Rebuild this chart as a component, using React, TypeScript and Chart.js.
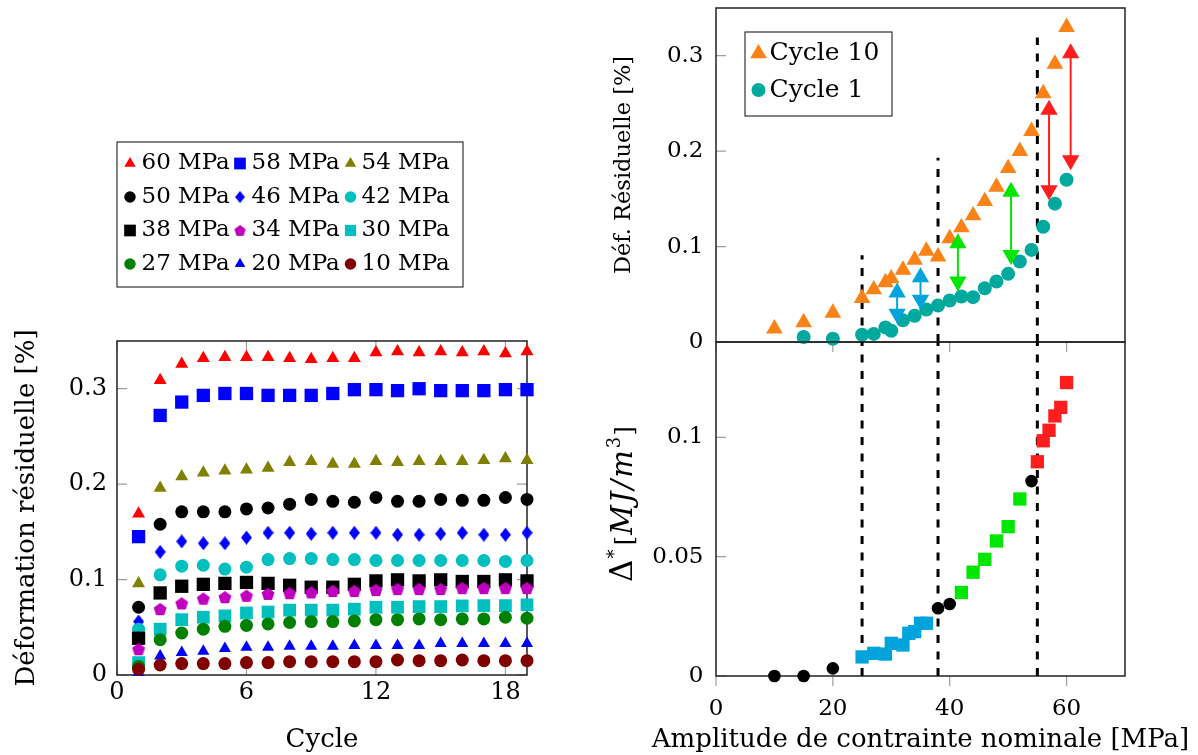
import React, { useEffect, useRef } from 'react';
import { Chart, registerables } from 'chart.js';

Chart.register(...registerables);

const FONT = "'DejaVu Serif', 'Liberation Serif', serif";

// ---------------- Left panel: residual strain vs cycle ----------------
const cycles = [1, 2, 3, 4, 5, 6, 7, 8, 9, 10, 11, 12, 13, 14, 15, 16, 17, 18, 19];
const cycleTicks = [0, 6, 12, 18];
const cycleTickLabels = ['0', '6', '12', '18'];
const strainTicks = [0, 0.1, 0.2, 0.3];
const strainTickLabels = ['0', '0.1', '0.2', '0.3'];
const seriesLabels = ['60 MPa', '58 MPa', '54 MPa', '50 MPa', '46 MPa', '42 MPa', '38 MPa', '34 MPa', '30 MPa', '27 MPa', '20 MPa', '10 MPa'];

const s60 = [0.169, 0.309, 0.326, 0.332, 0.333, 0.333, 0.333, 0.332, 0.331, 0.332, 0.332, 0.338, 0.339, 0.338, 0.339, 0.338, 0.339, 0.337, 0.339];
const s58 = [0.145, 0.272, 0.286, 0.293, 0.295, 0.295, 0.293, 0.293, 0.293, 0.295, 0.299, 0.299, 0.298, 0.300, 0.298, 0.298, 0.298, 0.299, 0.299];
const s54 = [0.096, 0.196, 0.208, 0.212, 0.214, 0.215, 0.217, 0.223, 0.224, 0.221, 0.221, 0.224, 0.223, 0.224, 0.224, 0.224, 0.225, 0.227, 0.225];
const s50 = [0.071, 0.158, 0.171, 0.171, 0.171, 0.174, 0.175, 0.179, 0.184, 0.182, 0.181, 0.186, 0.182, 0.182, 0.184, 0.183, 0.183, 0.186, 0.184];
const s46 = [0.056, 0.129, 0.140, 0.138, 0.138, 0.144, 0.149, 0.149, 0.148, 0.149, 0.149, 0.149, 0.147, 0.147, 0.148, 0.149, 0.147, 0.147, 0.149];
const s42 = [0.048, 0.105, 0.114, 0.115, 0.111, 0.113, 0.121, 0.122, 0.122, 0.121, 0.121, 0.120, 0.120, 0.120, 0.120, 0.120, 0.120, 0.119, 0.120];
const s38 = [0.0385, 0.086, 0.093, 0.095, 0.096, 0.097, 0.096, 0.094, 0.092, 0.092, 0.095, 0.0986, 0.0997, 0.0986, 0.0997, 0.098, 0.098, 0.0997, 0.0986];
const s34 = [0.027, 0.069, 0.075, 0.080, 0.0815, 0.083, 0.085, 0.0857, 0.0865, 0.088, 0.088, 0.089, 0.090, 0.090, 0.090, 0.091, 0.091, 0.091, 0.091];
const s30 = [0.013, 0.048, 0.058, 0.0605, 0.062, 0.065, 0.066, 0.068, 0.068, 0.068, 0.069, 0.071, 0.071, 0.0717, 0.0717, 0.0724, 0.0727, 0.0727, 0.0735];
const s27 = [0.009, 0.037, 0.044, 0.048, 0.051, 0.052, 0.0535, 0.055, 0.056, 0.056, 0.0567, 0.058, 0.058, 0.0588, 0.058, 0.0588, 0.0588, 0.0605, 0.0595];
const s20 = [0.0025, 0.020, 0.0235, 0.025, 0.0277, 0.029, 0.029, 0.030, 0.030, 0.030, 0.031, 0.031, 0.031, 0.031, 0.033, 0.033, 0.033, 0.033, 0.033];
const s10 = [0.006, 0.0105, 0.012, 0.012, 0.012, 0.013, 0.013, 0.014, 0.014, 0.014, 0.014, 0.014, 0.0157, 0.015, 0.015, 0.0157, 0.015, 0.015, 0.015];
const leftSeries = [s60, s58, s54, s50, s46, s42, s38, s34, s30, s27, s20, s10];

// ---------------- Right panels: vs stress amplitude ----------------
const ampTicks = [0, 20, 40, 60];
const ampTickLabels = ['0', '20', '40', '60'];
const defTicks = [0, 0.1, 0.2, 0.3];
const defTickLabels = ['0', '0.1', '0.2', '0.3'];
const deltaTicks = [0, 0.05, 0.1];
const deltaTickLabels = ['0', '0.05', '0.1'];

const cycle10Amp = [10, 15, 20, 25, 27, 29, 30, 32, 34, 36, 38, 40, 42, 44, 46, 48, 50, 52, 54, 56, 58, 60];
const cycle10Def = [0.014, 0.0205, 0.0305, 0.046, 0.055, 0.0625, 0.0665, 0.0755, 0.086, 0.0955, 0.0895, 0.1085, 0.120, 0.1325, 0.1475, 0.1625, 0.182, 0.200, 0.221, 0.2605, 0.2915, 0.330];
const cycle1Amp = [15, 20, 25, 27, 29, 30, 32, 34, 36, 38, 40, 42, 44, 46, 48, 50, 52, 54, 56, 58, 60];
const cycle1Def = [0.0052, 0.0034, 0.0076, 0.0085, 0.0153, 0.0118, 0.0228, 0.0275, 0.034, 0.0383, 0.0435, 0.0477, 0.047, 0.0564, 0.0634, 0.0714, 0.0843, 0.0965, 0.1208, 0.145, 0.170];

const arrowAmp = [31, 35, 41.4, 50.5, 57, 60.7];
const arrowLow = [0.0296, 0.0442, 0.0633, 0.0912, 0.1591, 0.1905];
const arrowHigh = [0.0518, 0.0679, 0.1034, 0.1574, 0.2435, 0.3026];
const arrowGroup = ['blue', 'blue', 'green', 'green', 'red', 'red'];

const dashAmp = [25, 38, 55];
const dashTopDef = [0.091, 0.193, 0.319];

const blackAmp = [10, 15, 20, 38, 40, 54];
const blackDelta = [0, 0, 0.0032, 0.0284, 0.0302, 0.0817];
const blueAmp = [25, 27, 29, 30, 32, 33, 34, 35, 36];
const blueDelta = [0.0080, 0.0095, 0.0092, 0.0137, 0.0130, 0.0179, 0.0186, 0.0221, 0.0221];
const greenAmp = [42, 44, 46, 48, 50, 52];
const greenDelta = [0.035, 0.0435, 0.0489, 0.0566, 0.0626, 0.0742];
const redAmp = [55, 56, 57, 58, 59, 60];
const redDelta = [0.0898, 0.0986, 0.103, 0.109, 0.1126, 0.123];

// ---------------- styles ----------------
type Shape = 'circle' | 'triangle' | 'rect' | 'diamond' | 'pentagon';
interface MarkerStyle { color: string; shape: Shape; r: number }

const leftStyles: MarkerStyle[] = [
  { color: '#ff0000', shape: 'triangle', r: 7.5 },
  { color: '#0000ff', shape: 'rect', r: 9.4 },
  { color: '#808000', shape: 'triangle', r: 7.5 },
  { color: '#000000', shape: 'circle', r: 6.5 },
  { color: '#0000ff', shape: 'diamond', r: 7 },
  { color: '#00bfbf', shape: 'circle', r: 6.5 },
  { color: '#000000', shape: 'rect', r: 9.4 },
  { color: '#bf00bf', shape: 'pentagon', r: 6.8 },
  { color: '#00bfbf', shape: 'rect', r: 9 },
  { color: '#008000', shape: 'circle', r: 6.5 },
  { color: '#0000ff', shape: 'triangle', r: 7 },
  { color: '#800000', shape: 'circle', r: 6.5 },
];
const ORANGE = '#fb8216';
const TEAL = '#00a99d';
const groupColors: Record<string, string> = { blue: '#00a3dc', green: '#00e600', red: '#ff1e1e' };

function makeDiamond(color: string, w: number, h: number) {
  const c = document.createElement('canvas');
  c.width = w; c.height = h;
  const g = c.getContext('2d')!;
  g.fillStyle = color;
  g.beginPath();
  g.moveTo(w / 2, 0); g.lineTo(w, h / 2); g.lineTo(w / 2, h); g.lineTo(0, h / 2);
  g.closePath(); g.fill();
  return c;
}
function makePentagon(color: string, r: number) {
  const s = Math.ceil(2 * r) + 2;
  const c = document.createElement('canvas');
  c.width = s; c.height = s;
  const g = c.getContext('2d')!;
  g.fillStyle = color;
  g.beginPath();
  for (let i = 0; i < 5; i++) {
    const a = -Math.PI / 2 + (i * 2 * Math.PI) / 5;
    g.lineTo(s / 2 + r * Math.cos(a), s / 2 + 0.6 + r * Math.sin(a));
  }
  g.closePath(); g.fill();
  return c;
}
function pointStyleFor(m: MarkerStyle): any {
  if (m.shape === 'diamond') return makeDiamond(m.color, Math.round(m.r * 1.5), Math.round(m.r * 2));
  if (m.shape === 'pentagon') return makePentagon(m.color, m.r);
  return m.shape;
}

function drawMarker(ctx: CanvasRenderingContext2D, ps: any, m: MarkerStyle, x: number, y: number, k: number) {
  ctx.save();
  ctx.fillStyle = m.color;
  const r = m.r * k;
  if (typeof ps !== 'string') {
    const w = ps.width * k, h = ps.height * k;
    ctx.drawImage(ps, x - w / 2, y - h / 2, w, h);
  } else if (ps === 'circle') {
    ctx.beginPath(); ctx.arc(x, y, r, 0, Math.PI * 2); ctx.fill();
  } else if (ps === 'triangle') {
    ctx.beginPath();
    for (let i = 0; i < 3; i++) {
      const a = (i * 2 * Math.PI) / 3;
      ctx.lineTo(x + Math.sin(a) * r, y - Math.cos(a) * r);
    }
    ctx.closePath(); ctx.fill();
  } else if (ps === 'rect') {
    const s = r * Math.SQRT1_2;
    ctx.fillRect(x - s, y - s, 2 * s, 2 * s);
  }
  ctx.restore();
}

interface TextPart { t: string; size?: number; italic?: boolean; raise?: number; dx?: number; ls?: number }
interface TitleDef { parts: TextPart[]; x: number; y: number; rotate: boolean; size: number }
interface LegendDef {
  x0: number; y0: number; x1: number; y1: number; cols: number;
  markerX: number[]; textX: number[]; rowY: number[]; size: number; k: number;
  items: { label: string; ps: any; m: MarkerStyle }[];
}
interface PgfCfg {
  xTicks: number[]; yTicks: number[];
  xIn: boolean; xTopIn: boolean; xOut: boolean; yRightIn: boolean;
  titles: TitleDef[]; legend?: LegendDef;
}

function drawTitle(ctx: CanvasRenderingContext2D, d: TitleDef) {
  ctx.save();
  ctx.translate(d.x, d.y);
  if (d.rotate) ctx.rotate(-Math.PI / 2);
  ctx.fillStyle = '#000';
  ctx.textBaseline = 'alphabetic';
  ctx.textAlign = 'left';
  const c: any = ctx;
  const setFont = (p: TextPart) => {
    ctx.font = `${p.italic ? 'italic ' : ''}${p.size || d.size}px ${FONT}`;
    if ('letterSpacing' in c) c.letterSpacing = `${p.ls || 0}px`;
  };
  let total = 0;
  const widths = d.parts.map((p) => {
    setFont(p);
    const w = ctx.measureText(p.t).width + (p.dx || 0);
    total += w;
    return w;
  });
  let x = -total / 2;
  const base = d.size * 0.36;
  d.parts.forEach((p, i) => {
    setFont(p);
    ctx.fillText(p.t, x, base - (p.raise || 0));
    x += widths[i];
  });
  if ('letterSpacing' in c) c.letterSpacing = '0px';
  ctx.restore();
}

function drawLegend(ctx: CanvasRenderingContext2D, L: LegendDef) {
  ctx.save();
  ctx.fillStyle = '#fff';
  ctx.fillRect(L.x0, L.y0, L.x1 - L.x0, L.y1 - L.y0);
  ctx.strokeStyle = '#333';
  ctx.lineWidth = 1.2;
  ctx.strokeRect(L.x0, L.y0, L.x1 - L.x0, L.y1 - L.y0);
  L.items.forEach((it, i) => {
    const col = i % L.cols, row = Math.floor(i / L.cols);
    const y = L.rowY[row];
    drawMarker(ctx, it.ps, it.m, L.markerX[col], y, L.k);
    ctx.fillStyle = '#000';
    ctx.font = `${L.size}px ${FONT}`;
    ctx.textBaseline = 'middle';
    ctx.textAlign = 'left';
    ctx.fillText(it.label, L.textX[col], y);
  });
  ctx.restore();
}

function pgfPlugin(cfg: PgfCfg) {
  return {
    id: 'pgf',
    beforeDatasetsDraw(chart: any) {
      const { ctx, chartArea: a, scales } = chart;
      const xs = scales.x, ys = scales.y;
      ctx.save();
      ctx.strokeStyle = 'rgba(0,0,0,0.38)';
      ctx.lineWidth = 1.2;
      ctx.beginPath();
      for (const v of cfg.xTicks) {
        const px = xs.getPixelForValue(v);
        if (cfg.xIn) { ctx.moveTo(px, a.bottom); ctx.lineTo(px, a.bottom - 10); }
        if (cfg.xTopIn) { ctx.moveTo(px, a.top); ctx.lineTo(px, a.top + 10); }
        if (cfg.xOut) { ctx.moveTo(px, a.bottom); ctx.lineTo(px, a.bottom + 10); }
      }
      for (const v of cfg.yTicks) {
        const py = ys.getPixelForValue(v);
        ctx.moveTo(a.left, py); ctx.lineTo(a.left + 10, py);
        if (cfg.yRightIn) { ctx.moveTo(a.right, py); ctx.lineTo(a.right - 10, py); }
      }
      ctx.stroke();
      ctx.strokeStyle = '#222';
      ctx.lineWidth = 1.5;
      ctx.strokeRect(a.left, a.top, a.right - a.left, a.bottom - a.top);
      ctx.restore();
    },
    afterDraw(chart: any) {
      const ctx = chart.ctx;
      cfg.titles.forEach((t) => drawTitle(ctx, t));
      if (cfg.legend) drawLegend(ctx, cfg.legend);
    },
  };
}

function linScale(min: number, max: number, ticks: number[], labels: string[], horizontal: boolean, fit: number, padding: number, fontSize: number, showLabels = true) {
  return {
    type: 'linear',
    min,
    max,
    grid: { display: false, drawTicks: false },
    border: { display: false },
    afterBuildTicks: (s: any) => { s.ticks = ticks.map((v) => ({ value: v })); },
    afterFit: (s: any) => {
      if (horizontal) s.height = fit; else s.width = fit;
      s.paddingTop = 0; s.paddingBottom = 0; s.paddingLeft = 0; s.paddingRight = 0;
    },
    ticks: {
      display: showLabels,
      padding,
      autoSkip: false,
      maxRotation: 0,
      minRotation: 0,
      color: '#000',
      font: { family: FONT, size: fontSize },
      callback: (_v: any, i: number) => labels[i],
    },
  };
}

function pts(xs: number[], ys: number[]) {
  return xs.map((x, i) => ({ x, y: ys[i] }));
}

function scatterSet(xs: number[], ys: number[], m: MarkerStyle, ps: any, order: number) {
  return {
    data: pts(xs, ys),
    pointStyle: ps,
    pointRadius: m.r,
    pointHoverRadius: m.r,
    backgroundColor: m.color,
    borderColor: m.color,
    pointBorderWidth: 0,
    showLine: false,
    clip: false,
    order,
  };
}

function baseOptions(padding: any, scales: any) {
  return {
    responsive: false,
    animation: false,
    events: [],
    devicePixelRatio: 1,
    layout: { autoPadding: false, padding },
    plugins: { legend: { display: false }, tooltip: { enabled: false }, title: { display: false } },
    scales,
  };
}

function makeLeft(canvas: HTMLCanvasElement) {
  const styles = leftStyles.map((m) => pointStyleFor(m));
  const n = leftSeries.length;
  const datasets = leftSeries.map((vals, i) => scatterSet(cycles, vals, leftStyles[i], styles[i], n - i));
  const legend: LegendDef = {
    x0: 117, y0: 22, x1: 463, y1: 167, cols: 3,
    markerX: [130, 240, 350.5], textX: [141.5, 251.5, 361.5], rowY: [43.5, 77, 110.5, 144],
    size: 23, k: 0.88,
    items: seriesLabels.map((label, i) => ({ label, ps: styles[i], m: leftStyles[i] })),
  };
  const cfg: PgfCfg = {
    xTicks: cycleTicks, yTicks: strainTicks, xIn: true, xTopIn: true, xOut: false, yRightIn: true,
    titles: [
      { parts: [{ t: 'Cycle' }], x: 322, y: 618, rotate: false, size: 26 },
      { parts: [{ t: 'Déformation résiduelle [%]' }], x: 25, y: 388, rotate: true, size: 26 },
    ],
    legend,
  };
  return new Chart(canvas, {
    type: 'scatter',
    data: { datasets } as any,
    options: baseOptions({ left: 0, top: 221, right: 33, bottom: 0 }, {
      x: linScale(0, 19, cycleTicks, cycleTickLabels, true, 80, 3, 24),
      y: linScale(0, 0.35, strainTicks, strainTickLabels, false, 117, 10, 24),
    }) as any,
    plugins: [pgfPlugin(cfg) as any],
  });
}

function arrowSets(order: number) {
  return arrowAmp.map((a, i) => {
    const c = groupColors[arrowGroup[i]];
    return {
      data: [{ x: a, y: arrowLow[i] }, { x: a, y: arrowHigh[i] }],
      showLine: true,
      borderColor: c,
      backgroundColor: c,
      borderWidth: 2,
      pointStyle: 'triangle',
      pointRadius: 10,
      pointHoverRadius: 10,
      pointRotation: [180, 0],
      pointBorderWidth: 0,
      clip: false,
      order,
    };
  });
}

function dashSets(tops: number[], order: number) {
  return dashAmp.map((a, i) => ({
    data: [{ x: a, y: 0 }, { x: a, y: tops[i] }],
    showLine: true,
    borderColor: '#000',
    borderWidth: 3,
    borderDash: [8, 8.5],
    pointRadius: 0,
    pointHoverRadius: 0,
    order,
  }));
}

function makeTop(canvas: HTMLCanvasElement) {
  const triM: MarkerStyle = { color: ORANGE, shape: 'triangle', r: 9.6 };
  const cirM: MarkerStyle = { color: TEAL, shape: 'circle', r: 7 };
  const datasets = [
    ...arrowSets(1),
    scatterSet(cycle1Amp, cycle1Def, cirM, 'circle', 2),
    scatterSet(cycle10Amp, cycle10Def, triM, 'triangle', 3),
    ...dashSets(dashTopDef, 4),
  ];
  const cfg: PgfCfg = {
    xTicks: ampTicks, yTicks: defTicks, xIn: false, xTopIn: false, xOut: true, yRightIn: false,
    titles: [{ parts: [{ t: 'Déf. Résiduelle [%]' }], x: 61.5, y: 165, rotate: true, size: 22.5 }],
    legend: {
      x0: 185, y0: 32, x1: 332, y1: 116, cols: 1,
      markerX: [198.5], textX: [209.5], rowY: [53.5, 90], size: 25, k: 1,
      items: [
        { label: 'Cycle 10', ps: 'triangle', m: triM },
        { label: 'Cycle 1', ps: 'circle', m: cirM },
      ],
    },
  };
  return new Chart(canvas, {
    type: 'scatter',
    data: { datasets } as any,
    options: baseOptions({ left: 0, top: 8, right: 73, bottom: 0 }, {
      x: linScale(0, 70, ampTicks, ampTickLabels, true, 18, 0, 23, false),
      y: linScale(0, 0.35, defTicks, defTickLabels, false, 156, 12.5, 23),
    }) as any,
    plugins: [pgfPlugin(cfg) as any],
  });
}

function makeBottom(canvas: HTMLCanvasElement) {
  const blackM: MarkerStyle = { color: '#000000', shape: 'circle', r: 6.3 };
  const blueM: MarkerStyle = { color: groupColors.blue, shape: 'rect', r: 9.4 };
  const greenM: MarkerStyle = { color: groupColors.green, shape: 'rect', r: 9.4 };
  const redM: MarkerStyle = { color: groupColors.red, shape: 'rect', r: 9.4 };
  const datasets = [
    scatterSet(blackAmp, blackDelta, blackM, 'circle', 1),
    scatterSet(redAmp, redDelta, redM, 'rect', 2),
    scatterSet(greenAmp, greenDelta, greenM, 'rect', 3),
    scatterSet(blueAmp, blueDelta, blueM, 'rect', 4),
    ...dashSets(dashAmp.map(() => 0.14), 5),
  ];
  const cfg: PgfCfg = {
    xTicks: ampTicks, yTicks: deltaTicks, xIn: false, xTopIn: false, xOut: true, yRightIn: false,
    titles: [
      {
        parts: [
          { t: 'Δ', size: 31, dx: 1 },
          { t: '*', size: 18, raise: 12, dx: 4 },
          { t: '[', size: 25, dx: 1 },
          { t: 'MJ/m', size: 29, italic: true, ls: 2 },
          { t: '3', size: 18, raise: 12, dx: 1 },
          { t: ']', size: 25 },
        ],
        x: 63, y: 174, rotate: true, size: 25,
      },
      { parts: [{ t: 'Amplitude de contrainte nominale [MPa]' }], x: 360.5, y: 408, rotate: false, size: 26 },
    ],
  };
  return new Chart(canvas, {
    type: 'scatter',
    data: { datasets } as any,
    options: baseOptions({ left: 0, top: 12, right: 73, bottom: 0 }, {
      x: linScale(0, 70, ampTicks, ampTickLabels, true, 79, 19, 23),
      y: linScale(0, 0.14, deltaTicks, deltaTickLabels, false, 156, 12.5, 23),
    }) as any,
    plugins: [pgfPlugin(cfg) as any],
  });
}

export default function App() {
  const leftRef = useRef<HTMLCanvasElement>(null);
  const topRef = useRef<HTMLCanvasElement>(null);
  const botRef = useRef<HTMLCanvasElement>(null);

  useEffect(() => {
    const charts = [
      makeLeft(leftRef.current!),
      makeTop(topRef.current!),
      makeBottom(botRef.current!),
    ];
    return () => charts.forEach((c) => c.destroy());
  }, []);

  return (
    <div style={{ position: 'absolute', left: 0, top: 0, width: 1198, height: 755, background: '#fff', overflow: 'hidden' }}>
      <canvas ref={leftRef} width={560} height={635} style={{ position: 'absolute', left: 0, top: 120, width: 560, height: 635 }} />
      <canvas ref={topRef} width={638} height={360} style={{ position: 'absolute', left: 560, top: 0, width: 638, height: 360 }} />
      <canvas ref={botRef} width={638} height={425} style={{ position: 'absolute', left: 560, top: 330, width: 638, height: 425 }} />
    </div>
  );
}
